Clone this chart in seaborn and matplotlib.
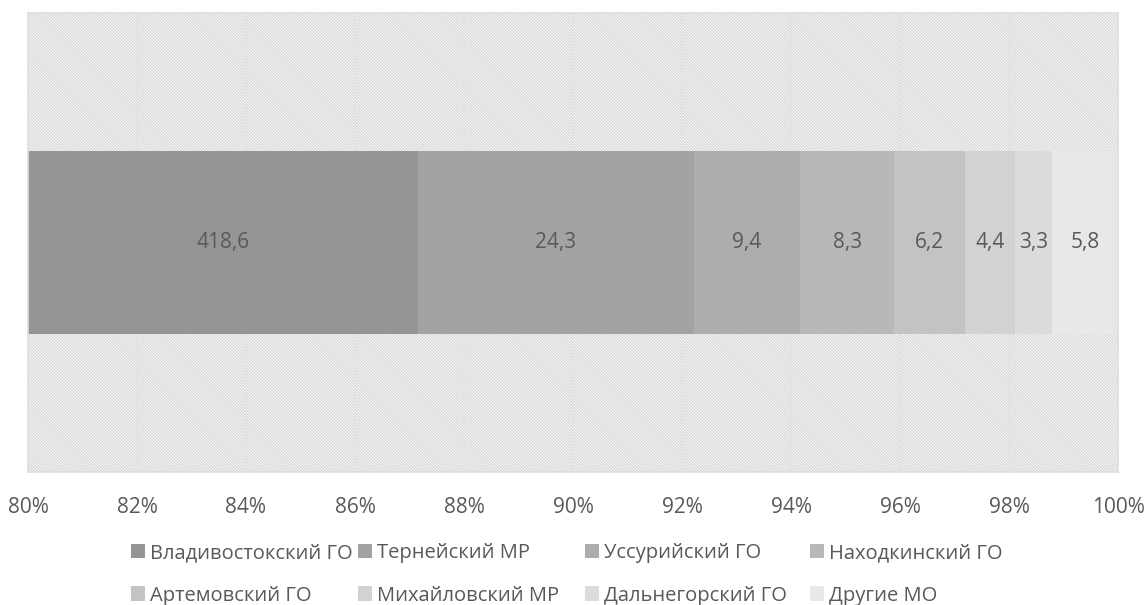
import matplotlib
matplotlib.use("Agg")
import matplotlib.pyplot as plt
import seaborn as sns
import pandas as pd
import numpy as np
from matplotlib.patches import Patch

categories = ["Владивостокский ГО", "Тернейский МР", "Уссурийский ГО", "Находкинский ГО",
              "Артемовский ГО", "Михайловский МР", "Дальнегорский ГО", "Другие МО"]
values = [418.6, 24.3, 9.4, 8.3, 6.2, 4.4, 3.3, 5.8]
value_labels = ["418,6", "24,3", "9,4", "8,3", "6,2", "4,4", "3,3", "5,8"]
colors = ["#959595", "#a3a3a3", "#adadad", "#b8b8b8", "#c3c3c3", "#d2d2d2", "#dcdcdc", "#e8e8e8"]
x_ticks = [80, 82, 84, 86, 88, 90, 92, 94, 96, 98, 100]
x_ticklabels = ["80%", "82%", "84%", "86%", "88%", "90%", "92%", "94%", "96%", "98%", "100%"]

sns.set_theme(style="white")
plt.rcParams['font.family'] = ['Open Sans', 'DejaVu Sans']
plt.rcParams['hatch.linewidth'] = 1.0

df = pd.DataFrame({"cat": categories, "val": values, "lab": value_labels})
df["share"] = df["val"] / df["val"].sum() * 100
df["left"] = df["share"].cumsum() - df["share"]

fig = plt.figure(figsize=(11.46, 6.05), dpi=100)
ax = fig.add_axes([28/1146, 1 - 472/605, (1118-28)/1146, (472-13)/605])

text_col = "#595959"
# hatched plot background
ax.axvspan(80, 100, ymin=0, ymax=1, facecolor="white", edgecolor="#d8d8d8",
           hatch="\\" * 11, linewidth=0, zorder=0)

for x in x_ticks:
    ax.axvline(x, color="#e3e3e3", linewidth=1.2, zorder=1)

for i, row in df.iterrows():
    ax.barh(0, row["share"], left=row["left"], height=0.397, color=colors[i],
            edgecolor="none", zorder=2)
    xc = row["left"] + row["share"] / 2 if row["left"] >= 80 else (80 + row["left"] + row["share"]) / 2
    ax.text(xc, 0, row["lab"], ha="center", va="center", fontsize=15, color=text_col, zorder=3)

ax.set_xlim(80, 100)
ax.set_ylim(-0.5, 0.5)
ax.set_xticks(x_ticks)
ax.set_xticklabels(x_ticklabels, fontsize=15, color=text_col)
ax.set_yticks([])
ax.tick_params(axis="x", length=0, pad=18)
for s in ax.spines.values():
    s.set_color("#dedede")
    s.set_linewidth(1.2)

# legend: 4 columns at fixed positions, two rows
col_x = [131, 358, 585, 810]
for c in range(4):
    handles = []
    for r in range(2):
        idx = r * 4 + c
        handles.append(Patch(facecolor=colors[idx], edgecolor="none", label=categories[idx]))
    fig.legend(handles=handles, loc="upper left", bbox_to_anchor=(col_x[c] / 1146, 1 - 543 / 605),
               frameon=False, fontsize=14.5, labelcolor=text_col, handlelength=0.7,
               handleheight=0.7, handletextpad=0.25, labelspacing=1.12, borderpad=0, borderaxespad=0)

fig.savefig("out.png", dpi=100)
